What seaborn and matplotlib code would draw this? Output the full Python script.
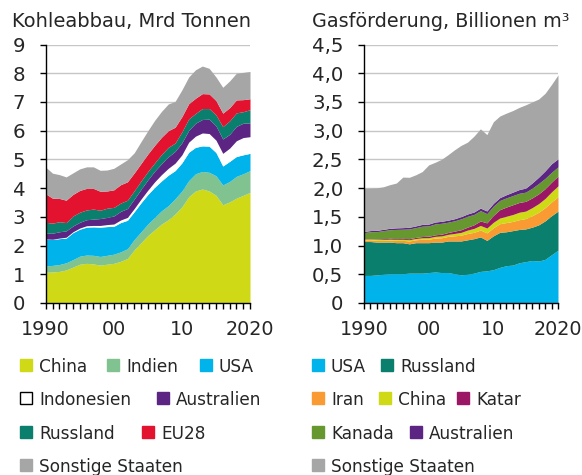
import numpy as np
import pandas as pd
import matplotlib
matplotlib.use("Agg")
import matplotlib.pyplot as plt
from matplotlib.patches import Rectangle
import seaborn as sns

years = list(range(1990, 2021))

# Kohleabbau, Mrd Tonnen
kohle_china = [1.07, 1.08, 1.10, 1.15, 1.25, 1.35, 1.38, 1.36, 1.32, 1.35, 1.38, 1.45, 1.55, 1.85, 2.10, 2.35,
               2.55, 2.75, 2.90, 3.10, 3.35, 3.70, 3.90, 3.97, 3.90, 3.75, 3.42, 3.52, 3.65, 3.75, 3.85]
kohle_indien = [0.22, 0.23, 0.24, 0.25, 0.26, 0.28, 0.29, 0.30, 0.30, 0.31, 0.32, 0.33, 0.34, 0.36, 0.38, 0.40,
                0.43, 0.46, 0.49, 0.53, 0.55, 0.56, 0.60, 0.61, 0.65, 0.68, 0.69, 0.71, 0.76, 0.75, 0.76]
kohle_usa = [0.93, 0.90, 0.90, 0.86, 0.94, 0.94, 0.97, 0.99, 1.02, 1.00, 0.97, 1.02, 0.99, 0.97, 1.01, 1.03,
             1.05, 1.04, 1.06, 0.98, 0.98, 0.99, 0.92, 0.89, 0.91, 0.81, 0.66, 0.70, 0.69, 0.66, 0.60]
kohle_indonesien = [0.01, 0.01, 0.02, 0.03, 0.03, 0.04, 0.05, 0.05, 0.06, 0.07, 0.08, 0.09, 0.10, 0.11, 0.13, 0.15,
                    0.19, 0.22, 0.24, 0.26, 0.28, 0.35, 0.39, 0.45, 0.44, 0.43, 0.44, 0.46, 0.55, 0.60, 0.58]
kohle_australien = [0.20, 0.21, 0.22, 0.22, 0.20, 0.20, 0.21, 0.22, 0.24, 0.25, 0.28, 0.30, 0.31, 0.33, 0.34, 0.36,
                    0.37, 0.38, 0.40, 0.41, 0.42, 0.41, 0.45, 0.47, 0.50, 0.50, 0.50, 0.48, 0.50, 0.50, 0.48]
kohle_russland = [0.38, 0.35, 0.35, 0.29, 0.35, 0.35, 0.34, 0.35, 0.29, 0.32, 0.30, 0.29, 0.29, 0.29, 0.29, 0.29,
                  0.29, 0.32, 0.33, 0.29, 0.38, 0.40, 0.34, 0.38, 0.37, 0.38, 0.43, 0.47, 0.47, 0.40, 0.46]
kohle_eu28 = [0.99, 0.87, 0.81, 0.78, 0.75, 0.76, 0.75, 0.72, 0.66, 0.60, 0.61, 0.64, 0.64, 0.62, 0.61, 0.61,
              0.61, 0.60, 0.58, 0.55, 0.53, 0.53, 0.53, 0.52, 0.51, 0.50, 0.47, 0.46, 0.45, 0.42, 0.38]
kohle_sonstige = [0.93, 0.87, 0.83, 0.81, 0.75, 0.75, 0.75, 0.75, 0.73, 0.73, 0.75, 0.72, 0.77, 0.70, 0.76, 0.81,
                  0.87, 0.90, 0.93, 0.90, 0.93, 0.93, 0.99, 0.96, 0.89, 0.82, 0.90, 0.93, 0.93, 0.95, 0.95]

# Gasförderung, Billionen m3
gas_usa = [0.48, 0.48, 0.49, 0.50, 0.51, 0.51, 0.51, 0.52, 0.52, 0.52, 0.53, 0.54, 0.53, 0.53, 0.51, 0.49,
           0.50, 0.52, 0.55, 0.56, 0.58, 0.62, 0.65, 0.66, 0.70, 0.72, 0.74, 0.73, 0.76, 0.84, 0.92]
gas_russland = [0.59, 0.59, 0.57, 0.56, 0.55, 0.54, 0.54, 0.51, 0.53, 0.53, 0.52, 0.52, 0.53, 0.55, 0.57, 0.59,
                0.60, 0.60, 0.60, 0.53, 0.59, 0.61, 0.59, 0.60, 0.58, 0.57, 0.58, 0.63, 0.67, 0.68, 0.68]
gas_iran = [0.025, 0.03, 0.03, 0.03, 0.035, 0.04, 0.04, 0.05, 0.05, 0.06, 0.06, 0.07, 0.075, 0.08, 0.09, 0.10,
            0.11, 0.11, 0.12, 0.13, 0.14, 0.15, 0.16, 0.16, 0.17, 0.18, 0.20, 0.22, 0.23, 0.24, 0.25]
gas_china = [0.015, 0.015, 0.016, 0.017, 0.017, 0.018, 0.020, 0.022, 0.023, 0.025, 0.027, 0.030, 0.033, 0.035,
             0.041, 0.049, 0.059, 0.069, 0.080, 0.085, 0.095, 0.10, 0.11, 0.12, 0.13, 0.13, 0.14, 0.15, 0.16,
             0.175, 0.19]
gas_katar = [0.006, 0.006, 0.007, 0.013, 0.013, 0.013, 0.014, 0.017, 0.019, 0.022, 0.025, 0.027, 0.030, 0.032,
             0.040, 0.046, 0.051, 0.063, 0.078, 0.09, 0.12, 0.145, 0.16, 0.17, 0.17, 0.17, 0.17, 0.17, 0.17,
             0.17, 0.17]
gas_kanada = [0.11, 0.12, 0.13, 0.14, 0.15, 0.16, 0.16, 0.17, 0.17, 0.18, 0.18, 0.19, 0.19, 0.18, 0.18, 0.19,
              0.19, 0.18, 0.18, 0.16, 0.16, 0.16, 0.16, 0.16, 0.16, 0.16, 0.17, 0.18, 0.18, 0.17, 0.16]
gas_australien = [0.02, 0.02, 0.022, 0.023, 0.025, 0.027, 0.028, 0.029, 0.03, 0.031, 0.032, 0.033, 0.034, 0.035,
                  0.036, 0.038, 0.04, 0.042, 0.044, 0.047, 0.05, 0.05, 0.055, 0.06, 0.065, 0.07, 0.09, 0.11,
                  0.13, 0.15, 0.14]
gas_sonstige = [0.75, 0.74, 0.74, 0.74, 0.76, 0.78, 0.88, 0.87, 0.89, 0.92, 1.03, 1.04, 1.08, 1.14, 1.20, 1.24,
                1.25, 1.32, 1.38, 1.33, 1.42, 1.42, 1.42, 1.42, 1.43, 1.45, 1.41, 1.36, 1.35, 1.38, 1.46]

GELB = "#d0d915"
HELLGRUEN = "#80c391"
BLAU = "#00b3ea"
LILA = "#5c2483"
PETROL = "#0a7f6d"
ROT = "#e3132f"
GRAU = "#a6a6a6"
ORANGE = "#f99a32"
MAGENTA = "#9b1766"
GRUEN = "#66982f"

kohle = pd.DataFrame({
    "China": kohle_china, "Indien": kohle_indien, "USA": kohle_usa,
    "Indonesien": kohle_indonesien, "Australien": kohle_australien,
    "Russland": kohle_russland, "EU28": kohle_eu28, "Sonstige Staaten": kohle_sonstige,
}, index=years)
kohle_farben = [GELB, HELLGRUEN, BLAU, "white", LILA, PETROL, ROT, GRAU]

gas = pd.DataFrame({
    "USA": gas_usa, "Russland": gas_russland, "Iran": gas_iran, "China": gas_china,
    "Katar": gas_katar, "Kanada": gas_kanada, "Australien": gas_australien,
    "Sonstige Staaten": gas_sonstige,
}, index=years)
gas_farben = [BLAU, PETROL, ORANGE, GELB, MAGENTA, GRUEN, LILA, GRAU]

sns.set_theme(style="white")
plt.rcParams['font.family'] = ['DejaVu Sans']

W, H = 582, 475
fig = plt.figure(figsize=(W / 100, H / 100), dpi=100)


def fx(px):
    return px / W


def fy(py):
    return 1 - py / H


def style_axis(ax, ymax, yticks, ylabels):
    ax.set_xlim(1990, 2020)
    ax.set_ylim(0, ymax)
    ax.set_yticks(yticks)
    ax.set_yticklabels(ylabels)
    ax.set_xticks([1990, 2000, 2010, 2020])
    ax.set_xticklabels(["1990", "00", "10", "2020"])
    ax.set_xticks(years, minor=True)
    for y in yticks[1:]:
        ax.axhline(y, color="#c6c6c6", lw=1.0, zorder=0)
    sns.despine(ax=ax)
    for side in ["left", "bottom"]:
        ax.spines[side].set_color("black")
        ax.spines[side].set_linewidth(1.0)
        ax.spines[side].set_zorder(5)
    ax.tick_params(axis="both", which="both", direction="out", color="black",
                   width=1.0, bottom=True, left=True)
    ax.tick_params(axis="x", which="major", length=4.5, pad=8, labelsize=13.8)
    ax.tick_params(axis="x", which="minor", length=4.5)
    ax.tick_params(axis="y", which="major", length=4.5, pad=10.3, labelsize=14.2)
    ax.set_facecolor("white")


ax1 = fig.add_axes([fx(45.7), fy(303), fx(250) - fx(45.7), fy(44.5) - fy(303)])
ax1.stackplot(kohle.index, kohle.T.values, colors=kohle_farben, lw=0, zorder=2)
style_axis(ax1, 9, list(range(10)), [str(i) for i in range(10)])

ax2 = fig.add_axes([fx(364), fy(303), fx(558) - fx(364), fy(44.5) - fy(303)])
ax2.stackplot(gas.index, gas.T.values, colors=gas_farben, lw=0, zorder=2)
gy = [i * 0.5 for i in range(10)]
style_axis(ax2, 4.5, gy, ["0"] + [f"{v:.1f}".replace(".", ",") for v in gy[1:]])

fig.text(fx(12), fy(27), "Kohleabbau, Mrd Tonnen", fontsize=14.0, va="baseline", ha="left")
fig.text(fx(312), fy(27), "Gasförderung, Billionen m³", fontsize=13.8, va="baseline", ha="left")

# Legenden
zeilen_y = [365, 398, 432, 465]
links = [
    [("China", GELB, 20), ("Indien", HELLGRUEN, 107), ("USA", BLAU, 200)],
    [("Indonesien", "white", 20), ("Australien", LILA, 157)],
    [("Russland", PETROL, 20), ("EU28", ROT, 142)],
    [("Sonstige Staaten", GRAU, 20)],
]
rechts = [
    [("USA", BLAU, 312), ("Russland", PETROL, 381)],
    [("Iran", ORANGE, 312), ("China", GELB, 379), ("Katar", MAGENTA, 457)],
    [("Kanada", GRUEN, 312), ("Australien", LILA, 410)],
    [("Sonstige Staaten", GRAU, 312)],
]
q = 12
for block in (links, rechts):
    for yc, zeile in zip(zeilen_y, block):
        for name, farbe, x0 in zeile:
            kante = "black" if farbe == "white" else farbe
            fig.add_artist(Rectangle((fx(x0), fy(yc + q / 2)), fx(q), fy(0) - fy(q),
                                     facecolor=farbe, edgecolor=kante, lw=1.0,
                                     transform=fig.transFigure))
            fig.text(fx(x0 + q + 7), fy(yc), name, fontsize=12.2, va="center_baseline", ha="left")

fig.savefig("out.png", dpi=100, facecolor="white")
